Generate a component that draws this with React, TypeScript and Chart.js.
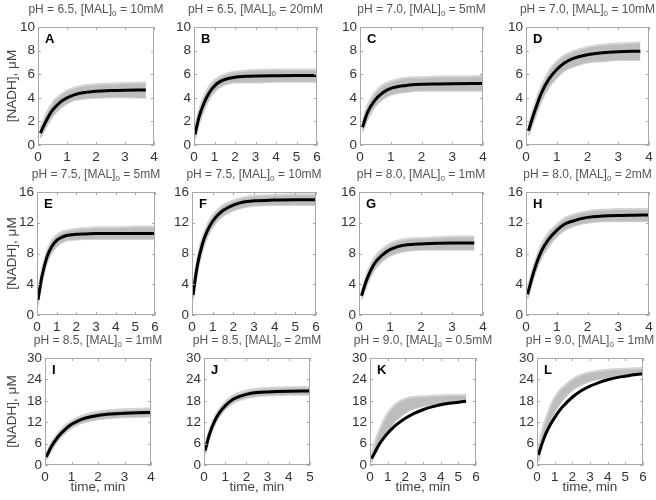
import React, { useEffect, useRef } from "react";
import { Chart, registerables } from "chart.js";

Chart.register(...registerables);

// ---------- data ----------
// time points (min), fitted curve (black), lower / upper edge of the grey data band
const tA = [0.08, 0.25, 0.5, 0.75, 1.0, 1.25, 1.5, 2.0, 2.5, 3.0, 3.72];
const fitA = [1.0, 1.9, 2.95, 3.6, 4.0, 4.25, 4.4, 4.55, 4.62, 4.65, 4.66];
const loA = [0.6, 1.4, 2.4, 3.1, 3.5, 3.8, 3.9, 4.0, 4.05, 4.05, 4.0];
const hiA = [1.4, 2.5, 3.6, 4.2, 4.6, 4.85, 5.0, 5.15, 5.2, 5.25, 5.3];

const tB = [0.05, 0.25, 0.5, 0.75, 1.0, 1.25, 1.5, 2.0, 2.5, 3.0, 4.0, 5.0, 6.0];
const fitB = [0.9, 2.4, 3.6, 4.45, 5.0, 5.35, 5.55, 5.75, 5.82, 5.85, 5.87, 5.88, 5.88];
const loB = [0.5, 1.8, 3.0, 3.9, 4.5, 4.9, 5.1, 5.3, 5.3, 5.3, 5.35, 5.35, 5.35];
const hiB = [1.3, 3.0, 4.2, 5.0, 5.5, 5.8, 6.0, 6.2, 6.3, 6.35, 6.4, 6.4, 6.4];

const tC = [0.08, 0.25, 0.5, 0.75, 1.0, 1.5, 2.0, 2.5, 3.0, 4.0];
const fitC = [1.5, 2.8, 3.85, 4.45, 4.8, 5.05, 5.15, 5.18, 5.2, 5.22];
const loC = [1.1, 2.2, 3.3, 3.9, 4.25, 4.5, 4.6, 4.6, 4.6, 4.6];
const hiC = [1.9, 3.4, 4.5, 5.1, 5.4, 5.7, 5.75, 5.8, 5.8, 5.85];

const tD = [0.08, 0.25, 0.5, 0.75, 1.0, 1.25, 1.5, 2.0, 2.5, 3.0, 3.72];
const fitD = [1.2, 2.6, 4.4, 5.6, 6.4, 6.95, 7.3, 7.65, 7.82, 7.9, 7.95];
const loD = [0.8, 2.0, 3.7, 4.9, 5.7, 6.3, 6.6, 7.0, 7.1, 7.2, 7.2];
const hiD = [1.6, 3.2, 5.0, 6.3, 7.1, 7.6, 7.9, 8.3, 8.5, 8.6, 8.7];

const tE = [0.05, 0.25, 0.5, 0.75, 1.0, 1.25, 1.5, 2.0, 2.5, 3.0, 4.0, 5.0, 6.0];
const fitE = [2.0, 5.0, 7.5, 8.9, 9.7, 10.1, 10.35, 10.5, 10.55, 10.6, 10.6, 10.6, 10.6];
const loE = [1.4, 4.2, 6.7, 8.1, 8.9, 9.4, 9.7, 9.8, 9.9, 9.9, 9.9, 9.9, 9.9];
const hiE = [2.6, 5.8, 8.3, 9.7, 10.4, 10.8, 11.0, 11.2, 11.3, 11.4, 11.4, 11.5, 11.5];

const tF = [0.05, 0.25, 0.5, 0.75, 1.0, 1.25, 1.5, 2.0, 2.5, 3.0, 4.0, 5.0, 6.0];
const fitF = [2.6, 6.3, 9.2, 11.0, 12.2, 13.0, 13.6, 14.3, 14.7, 14.85, 14.95, 15.0, 15.0];
const loF = [2.0, 5.4, 8.3, 10.2, 11.4, 12.3, 12.9, 13.6, 14.0, 14.2, 14.3, 14.3, 14.3];
const hiF = [3.2, 7.2, 10.1, 11.8, 13.0, 13.7, 14.3, 14.9, 15.3, 15.5, 15.6, 15.7, 15.7];

const tG = [0.08, 0.25, 0.5, 0.75, 1.0, 1.25, 1.5, 2.0, 2.5, 3.0, 3.72];
const fitG = [2.5, 4.6, 6.7, 7.8, 8.5, 8.9, 9.1, 9.25, 9.32, 9.35, 9.36];
const loG = [2.0, 3.9, 5.9, 7.0, 7.7, 8.1, 8.3, 8.5, 8.5, 8.5, 8.5];
const hiG = [3.0, 5.3, 7.5, 8.6, 9.3, 9.7, 9.9, 10.0, 10.1, 10.2, 10.2];

const tH = [0.05, 0.25, 0.5, 0.75, 1.0, 1.25, 1.5, 2.0, 2.5, 3.0, 3.5, 4.0];
const fitH = [2.7, 5.6, 8.3, 9.9, 11.0, 11.8, 12.2, 12.7, 12.88, 12.95, 12.98, 13.0];
const loH = [2.1, 4.8, 7.4, 9.0, 10.2, 11.0, 11.5, 12.0, 12.2, 12.2, 12.2, 12.2];
const hiH = [3.3, 6.4, 9.2, 10.8, 11.8, 12.6, 13.0, 13.5, 13.7, 13.8, 13.8, 13.8];

const tI = [0.05, 0.25, 0.5, 0.75, 1.0, 1.25, 1.5, 2.0, 2.5, 3.0, 3.5, 4.0];
const fitI = [2.3, 5.3, 8.0, 9.9, 11.4, 12.4, 13.1, 13.9, 14.3, 14.5, 14.65, 14.75];
const loI = [1.5, 4.3, 7.0, 8.9, 10.4, 11.4, 12.0, 12.8, 13.2, 13.4, 13.5, 13.6];
const hiI = [3.1, 6.3, 9.0, 11.0, 12.4, 13.4, 14.1, 15.0, 15.4, 15.6, 15.8, 15.9];

const tJ = [0.05, 0.25, 0.5, 0.75, 1.0, 1.25, 1.5, 2.0, 2.5, 3.0, 4.0, 5.0];
const fitJ = [4.0, 8.5, 12.3, 14.8, 16.6, 17.9, 18.8, 19.8, 20.3, 20.5, 20.7, 20.75];
const loJ = [3.0, 7.4, 11.2, 13.8, 15.6, 16.9, 17.8, 18.8, 19.3, 19.5, 19.7, 19.7];
const hiJ = [5.0, 9.6, 13.4, 15.9, 17.7, 19.0, 19.9, 20.9, 21.4, 21.6, 21.8, 21.9];

const tK = [0.08, 0.25, 0.5, 0.75, 1.0, 1.25, 1.5, 2.0, 2.5, 3.0, 3.5, 4.0, 4.5, 5.0, 5.44];
const fitK = [1.8, 3.3, 5.6, 7.4, 8.9, 10.2, 11.3, 13.1, 14.5, 15.5, 16.3, 16.9, 17.3, 17.6, 17.9];
const loK = [0.8, 2.8, 5.5, 7.8, 9.6, 11.2, 12.6, 14.6, 15.8, 16.5, 16.9, 17.2, 17.4, 17.5, 17.6];
const hiK = [2.8, 6.0, 9.5, 12.3, 14.5, 16.2, 17.3, 18.6, 19.1, 19.3, 19.4, 19.5, 19.6, 19.6, 19.7];

const tL = [0.08, 0.25, 0.5, 0.75, 1.0, 1.25, 1.5, 2.0, 2.5, 3.0, 3.5, 4.0, 4.5, 5.0, 5.5, 6.0];
const fitL = [2.8, 5.5, 8.8, 11.3, 13.3, 15.1, 16.6, 19.0, 20.8, 22.1, 23.1, 23.9, 24.5, 24.9, 25.3, 25.6];
const loL = [1.0, 5.0, 9.0, 12.3, 14.8, 16.8, 18.5, 21.0, 22.5, 23.5, 24.1, 24.6, 24.9, 25.2, 25.4, 25.5];
const hiL = [3.5, 9.0, 13.0, 16.5, 19.0, 20.8, 22.0, 24.0, 25.3, 26.0, 26.4, 26.7, 26.9, 27.0, 27.1, 27.2];

const panelLetters = ["A", "B", "C", "D", "E", "F", "G", "H", "I", "J", "K", "L"];
const phLabels = ["6.5", "6.5", "7.0", "7.0", "7.5", "7.5", "8.0", "8.0", "8.5", "8.5", "9.0", "9.0"];
const malLabels = ["10mM", "20mM", "5mM", "10mM", "5mM", "10mM", "1mM", "2mM", "1mM", "2mM", "0.5mM", "1mM"];
const xMaxes = [4, 6, 4, 4, 6, 6, 4, 4, 4, 5, 6, 6];
const yMaxes = [10, 10, 10, 10, 16, 16, 16, 16, 30, 30, 30, 30];
const yStepSizes = [2, 2, 2, 2, 4, 4, 4, 4, 6, 6, 6, 6];
const yAxisTitle = "[NADH], \u03bcM";
const xAxisTitle = "time, min";

const panelTimes = [tA, tB, tC, tD, tE, tF, tG, tH, tI, tJ, tK, tL];
const panelFits = [fitA, fitB, fitC, fitD, fitE, fitF, fitG, fitH, fitI, fitJ, fitK, fitL];
const panelLows = [loA, loB, loC, loD, loE, loF, loG, loH, loI, loJ, loK, loL];
const panelHighs = [hiA, hiB, hiC, hiD, hiE, hiF, hiG, hiH, hiI, hiJ, hiK, hiL];

// ---------- layout (plot-box edges in page pixels: left, top, right, bottom) ----------
const boxes = [
  [38, 27, 154, 145], [194, 27, 317, 145], [360, 27, 483, 145], [526, 27, 649, 145],
  [37, 192, 155, 315], [192, 192, 316, 315], [359, 192, 483, 315], [526, 192, 649, 315],
  [45, 358, 151, 465], [204, 358, 310, 465], [370, 358, 476, 465], [537, 358, 643, 465],
];
const PAD_L = 40;
const PAD_T = 26;
const PAD_R = 22;
const PAD_B = 33;
const FAM = "Arial, 'Liberation Sans', Helvetica, sans-serif";

function Panel({ i }: { i: number }) {
  const ref = useRef<HTMLCanvasElement>(null);
  const [L, T, R, B] = boxes[i];
  const col = i % 4;
  const row = Math.floor(i / 4);
  const cLeft = L - PAD_L;
  const cTop = T - PAD_T;
  const cW = R - L + PAD_L + PAD_R;
  const cH = B - T + PAD_T + PAD_B;

  useEffect(() => {
    const t = panelTimes[i];
    const mk = (arr: number[]) => t.map((x, k) => ({ x, y: arr[k] }));
    const decor = {
      id: "decor",
      afterDraw(chart: any) {
        const ctx = chart.ctx as CanvasRenderingContext2D;
        const a = chart.chartArea;
        const xs = chart.scales.x;
        const ys = chart.scales.y;
        ctx.save();
        // box
        ctx.strokeStyle = "#a8a8a8";
        ctx.lineWidth = 1;
        ctx.strokeRect(a.left + 0.5, a.top + 0.5, a.right - a.left - 1, a.bottom - a.top - 1);
        // inward ticks
        ctx.beginPath();
        xs.ticks.forEach((tk: any) => {
          const px = Math.round(xs.getPixelForValue(tk.value)) + 0.5;
          ctx.moveTo(px, a.bottom);
          ctx.lineTo(px, a.bottom - 3);
          ctx.moveTo(px, a.top);
          ctx.lineTo(px, a.top + 3);
        });
        ys.ticks.forEach((tk: any) => {
          const py = Math.round(ys.getPixelForValue(tk.value)) + 0.5;
          ctx.moveTo(a.left, py);
          ctx.lineTo(a.left + 3, py);
          ctx.moveTo(a.right, py);
          ctx.lineTo(a.right - 3, py);
        });
        ctx.stroke();
        // title with subscript
        const cx = (a.left + a.right) / 2;
        const p1 = `pH = ${phLabels[i]}, [MAL]`;
        const sub = "0";
        const p2 = ` = ${malLabels[i]}`;
        const mainFont = `12px ${FAM}`;
        const subFont = `8px ${FAM}`;
        ctx.font = mainFont;
        const w1 = ctx.measureText(p1).width;
        const w2 = ctx.measureText(p2).width;
        ctx.font = subFont;
        const ws = ctx.measureText(sub).width;
        const x0 = cx - (w1 + ws + w2) / 2;
        const ty = a.top - 14;
        ctx.fillStyle = "#555";
        ctx.textAlign = "left";
        ctx.textBaseline = "alphabetic";
        ctx.font = mainFont;
        ctx.fillText(p1, x0, ty);
        ctx.font = subFont;
        ctx.fillText(sub, x0 + w1, ty + 3);
        ctx.font = mainFont;
        ctx.fillText(p2, x0 + w1 + ws, ty);
        // panel letter
        ctx.fillStyle = "#000";
        ctx.font = `bold 13px ${FAM}`;
        ctx.fillText(panelLetters[i], a.left + 7, a.top + 16);
        // axis titles
        ctx.fillStyle = "#444";
        ctx.font = `13.5px ${FAM}`;
        if (col === 0) {
          ctx.save();
          ctx.translate(12 - cLeft, (a.top + a.bottom) / 2);
          ctx.rotate(-Math.PI / 2);
          ctx.textAlign = "center";
          ctx.textBaseline = "middle";
          ctx.fillText(yAxisTitle, 0, 0);
          ctx.restore();
        }
        if (row === 2) {
          ctx.textAlign = "center";
          ctx.textBaseline = "alphabetic";
          ctx.fillText(xAxisTitle, cx, a.bottom + 26);
        }
        ctx.restore();
      },
    };
    const chart = new Chart(ref.current as HTMLCanvasElement, {
      type: "line",
      data: {
        datasets: [
          {
            data: mk(panelFits[i]),
            borderColor: "#000",
            borderWidth: 3,
            pointRadius: 0,
            cubicInterpolationMode: "monotone",
            fill: false,
          },
          {
            data: mk(panelHighs[i]),
            borderColor: "#d4d4d4",
            borderWidth: 2,
            backgroundColor: "#bdbdbd",
            pointRadius: 0,
            cubicInterpolationMode: "monotone",
            fill: "+1",
          },
          {
            data: mk(panelLows[i]),
            borderColor: "#d4d4d4",
            borderWidth: 2,
            pointRadius: 0,
            cubicInterpolationMode: "monotone",
            fill: false,
          },
        ],
      } as any,
      options: {
        animation: false,
        responsive: false,
        maintainAspectRatio: false,
        events: [],
        layout: { autoPadding: false, padding: { top: PAD_T, right: PAD_R, left: 0, bottom: 0 } },
        plugins: { legend: { display: false }, tooltip: { enabled: false }, title: { display: false } },
        scales: {
          x: {
            type: "linear",
            min: 0,
            max: xMaxes[i],
            grid: { display: false, drawTicks: false },
            border: { display: false },
            ticks: { stepSize: 1, color: "#333", font: { family: FAM, size: 13.5 }, padding: 4, autoSkip: false, maxRotation: 0 },
            afterFit: (s: any) => {
              s.height = PAD_B;
            },
          },
          y: {
            type: "linear",
            min: 0,
            max: yMaxes[i],
            grid: { display: false, drawTicks: false },
            border: { display: false },
            ticks: { stepSize: yStepSizes[i], color: "#333", font: { family: FAM, size: 13.5 }, padding: 3 },
            afterFit: (s: any) => {
              s.width = PAD_L;
            },
          },
        },
      } as any,
      plugins: [decor],
    });
    return () => chart.destroy();
  }, [i]);

  return (
    <canvas
      ref={ref}
      width={cW}
      height={cH}
      style={{ position: "absolute", left: cLeft, top: cTop, width: cW, height: cH }}
    />
  );
}

export default function App() {
  return (
    <div
      style={{
        position: "absolute",
        left: 0,
        top: 0,
        width: 656,
        height: 500,
        overflow: "hidden",
        background: "#fff",
      }}
    >
      {panelLetters.map((_, i) => (
        <Panel key={i} i={i} />
      ))}
    </div>
  );
}
